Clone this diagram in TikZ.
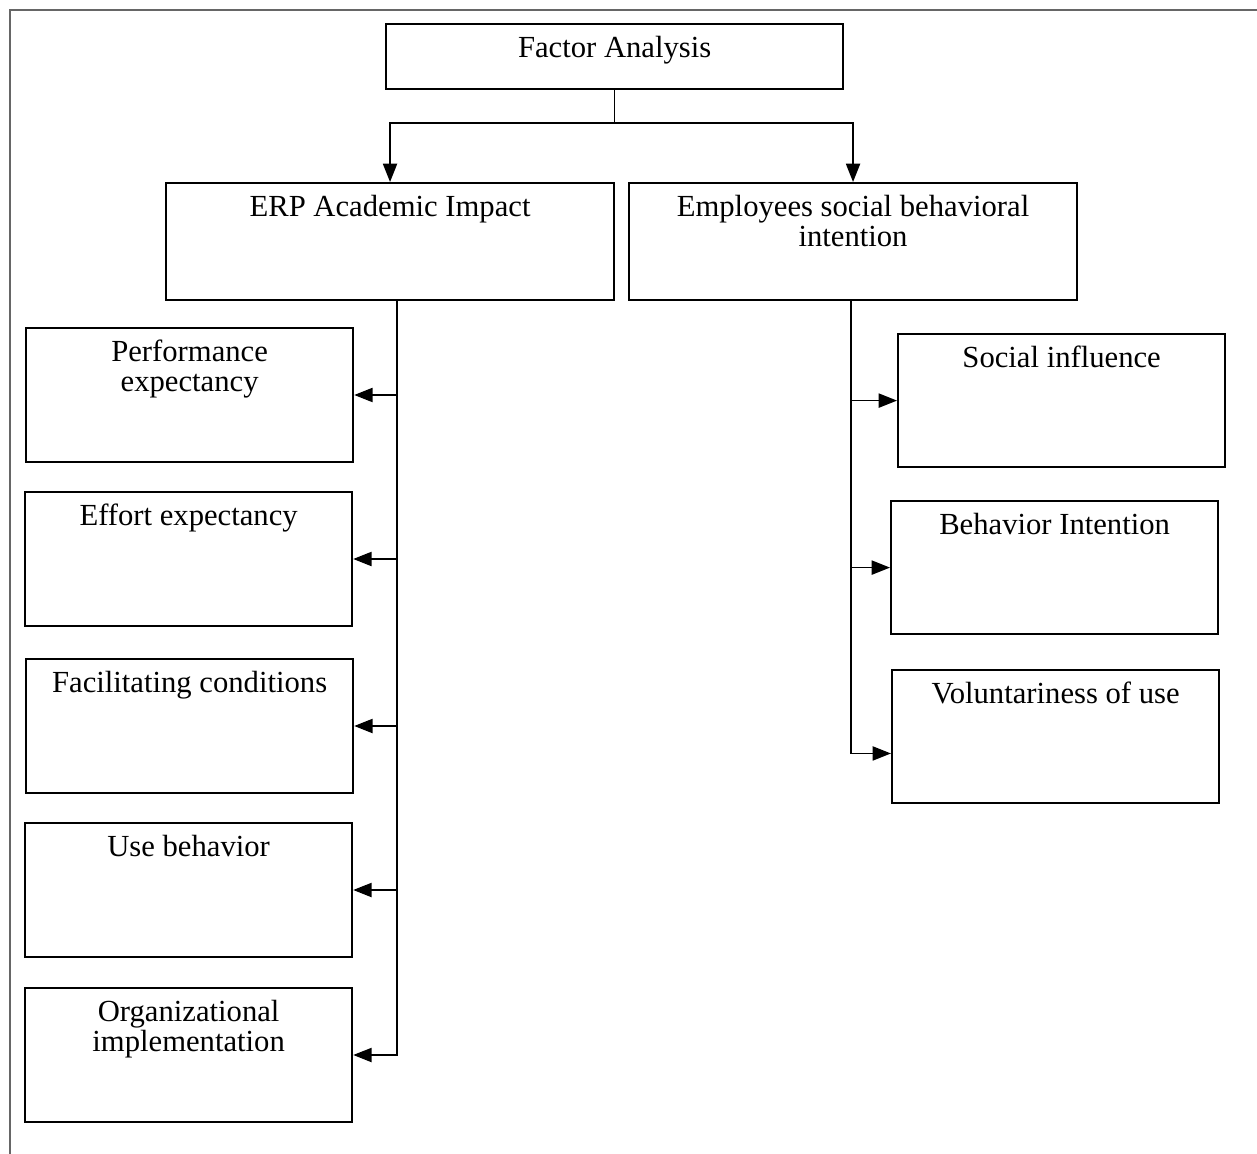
\documentclass[tikz,border=0pt]{standalone}
\usepackage{fontspec}
\setmainfont{Liberation Serif}
\usepackage{tikz}
\usetikzlibrary{arrows.meta, positioning, calc}
\tikzset{
  factorbox/.style={
    rectangle, draw, line width=1.4pt, anchor=north west, inner sep=0pt
  },
  boxtext/.style={
    anchor=north, align=center, font=\fontsize{21.8}{21.5}\selectfont, inner sep=0pt, yshift=-9pt
  },
  link/.style={
    line width=1.2pt
  },
  flowarrow/.style={
    line width=1.2pt, -{Triangle[length=13pt,width=10pt]}
  }
}

\begin{document}
\begin{tikzpicture}[x=0.025cm, y=-0.025cm]
  \useasboundingbox (0,0) rectangle (1257,1154);
  % outer frame, cut off on the right and at the bottom
  \draw[line width=1.4pt, gray!80!black] (1257,10) -| (10,1154);

  \node[factorbox, minimum width=11.43cm, minimum height=1.63cm,
        label={[boxtext]north:Factor Analysis}] (factor) at (385,23) {};
  \node[factorbox, minimum width=11.2cm, minimum height=2.93cm,
        label={[boxtext]north:ERP Academic Impact}] (erp) at (165,182) {};
  \node[factorbox, minimum width=11.2cm, minimum height=2.93cm,
        label={[boxtext]north:Employees social behavioral\\intention}] (emp) at (628,182) {};

  % left column
  \node[factorbox, minimum width=8.18cm, minimum height=3.35cm,
        label={[boxtext]north:Performance\\expectancy}] (perf) at (25,327) {};
  \node[factorbox, minimum width=8.18cm, minimum height=3.35cm,
        label={[boxtext]north:Effort expectancy}] (effort) at (24,491) {};
  \node[factorbox, minimum width=8.18cm, minimum height=3.35cm,
        label={[boxtext]north:Facilitating conditions}] (facil) at (25,658) {};
  \node[factorbox, minimum width=8.18cm, minimum height=3.35cm,
        label={[boxtext]north:Use behavior}] (usebeh) at (24,822) {};
  \node[factorbox, minimum width=8.18cm, minimum height=3.35cm,
        label={[boxtext]north:Organizational\\implementation}] (org) at (24,987) {};

  % right column
  \node[factorbox, minimum width=8.18cm, minimum height=3.33cm,
        label={[boxtext]north:Social influence}] (social) at (897,333) {};
  \node[factorbox, minimum width=8.18cm, minimum height=3.33cm,
        label={[boxtext]north:Behavior Intention}] (behint) at (890,500) {};
  \node[factorbox, minimum width=8.18cm, minimum height=3.33cm,
        label={[boxtext]north:Voluntariness of use}] (volun) at (891,669) {};

  % connectors
  \coordinate (split) at ($(factor.south)+(0,33)$);
  \draw[link] (factor.south) -- (split);
  \draw[flowarrow] (split) -| (erp.north);
  \draw[flowarrow] (split) -| (emp.north);

  \coordinate (ltrunk) at ($(erp.south)+(7,0)$);
  \draw[flowarrow] (ltrunk) |- (org.east);
  \foreach \b in {perf, effort, facil, usebeh}
    \draw[flowarrow] (ltrunk |- \b.east) -- (\b.east);

  \coordinate (rtrunk) at ($(emp.south)+(-2,0)$);
  \draw[flowarrow] (rtrunk) |- ([yshift=-12]volun.west);
  \foreach \b in {social, behint}
    \draw[flowarrow] (rtrunk |- \b.west) -- (\b.west);
\end{tikzpicture}
\end{document}
